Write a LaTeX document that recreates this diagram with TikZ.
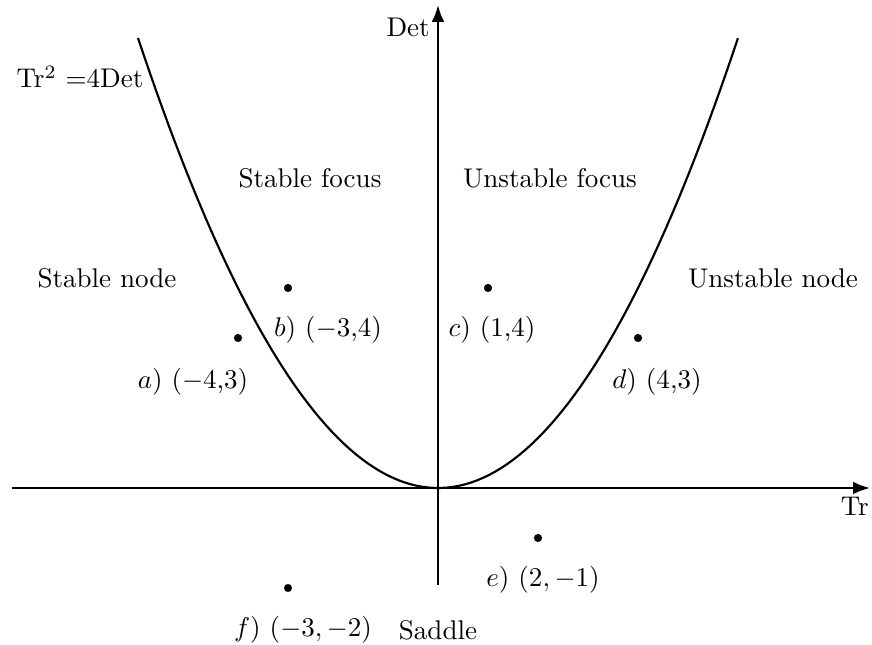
\documentclass[tikz,border=0pt]{standalone}
\usepackage{amsmath}
\usetikzlibrary{arrows.meta,positioning}

\begin{document}
\begin{tikzpicture}[x=0.65cm,y=0.65cm,every node/.style={font=\normalsize},
  axis/.style={thick,-{Latex[length=2.2mm]}},
  pt/.style={circle,fill=black,inner sep=0pt,minimum size=3pt}]
\useasboundingbox (-8.76,-3.14) rectangle (8.68,9.76);
% axes
\coordinate (xl) at (-8.52,0);
\coordinate (xr) at (8.64,0);
\coordinate (yb) at (0,-1.94);
\coordinate (yt) at (0,9.66);
\draw[axis] (xl)--(xr);
\draw[axis] (yb)--(yt);
\node[anchor=north east,inner sep=1pt] (tr) at (8.68,-0.12) {Tr};
\node[anchor=east,inner sep=1pt] (det) at (-0.1,9.22) {Det};
% boundary curve
\draw[thick,domain=-6:6,samples=100] plot (\x,{\x*\x/4});
\node (curve) at (-7.16,8.22) {Tr$^2$ $=$4Det};
% regions
\node (sfocus) at (-2.56,6.2) {Stable focus};
\node (ufocus) at (2.24,6.2) {Unstable focus};
\node (snode) at (-6.62,4.2) {Stable node};
\node (unode) at (6.7,4.2) {Unstable node};
\node (saddle) at (0,-2.84) {Saddle};
% sample points
\node[pt] (pa) at (-4,3) {};
\node[pt] (pb) at (-3,4) {};
\node[pt] (pc) at (1,4) {};
\node[pt] (pd) at (4,3) {};
\node[pt] (pe) at (2,-1) {};
\node[pt] (pf) at (-3,-2) {};
\node (la) at (-4.9,2.12) {$a)$ $(-4$,3$)$};
\node (lb) at (-2.2,3.16) {$b)$ $(-3$,4$)$};
\node (lc) at (1.08,3.16) {$c)$ $(1$,4$)$};
\node (ld) at (4.38,2.12) {$d)$ $(4$,3$)$};
\node (le) at (2.1,-1.84) {$e)$ $(2,-1)$};
\node (lf) at (-2.7,-2.84) {$f)$ $(-3,-2)$};
\end{tikzpicture}
\end{document}
